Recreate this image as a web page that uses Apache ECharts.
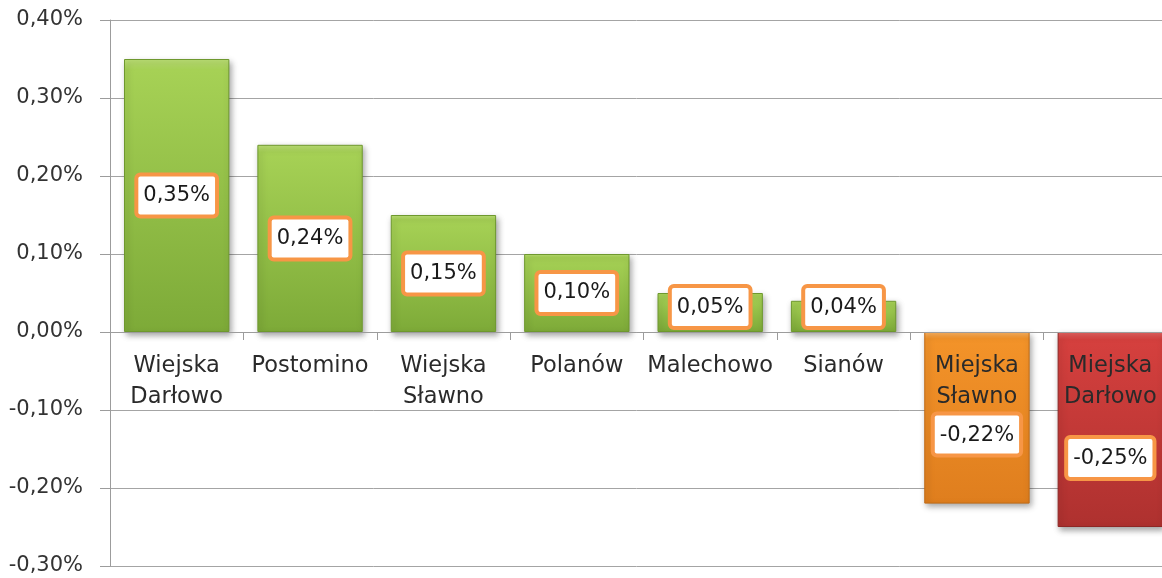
<!DOCTYPE html>
<html>
<head>
<meta charset="utf-8">
<script src="https://cdn.jsdelivr.net/npm/echarts@6/dist/echarts.min.js"></script>
<style>
  html, body { margin: 0; padding: 0; background: #fff; }
  #chart { width: 1162px; height: 578px; }
</style>
</head>
<body>
<div id="chart"></div>
<script>
// Population change by gmina (percent)
const categories = [
  'Wiejska\nDarłowo', 'Postomino', 'Wiejska\nSławno', 'Polanów',
  'Malechowo', 'Sianów', 'Miejska\nSławno', 'Miejska\nDarłowo'
];
const changePct = [0.35, 0.24, 0.15, 0.10, 0.05, 0.04, -0.22, -0.25];
const yTicks = { min: -0.30, max: 0.40, step: 0.10 };

const FONT = 'DejaVu Sans';

function pct(v) {
  if (Math.abs(v) < 1e-9) v = 0;
  return v.toFixed(2).replace('.', ',') + '%';
}

function vGrad(top, mid, bottom) {
  return {
    type: 'linear', x: 0, y: 0, x2: 0, y2: 1,
    colorStops: [
      { offset: 0, color: top },
      { offset: 0.04, color: mid },
      { offset: 1, color: bottom }
    ]
  };
}

const greenFill = vGrad('#BCDF76', '#A6D155', '#7DAA38');
const orangeFill = vGrad('#F8B060', '#F39329', '#DF7E1E');
const redFill = vGrad('#E26260', '#D5403E', '#AE312F');

function fillFor(i, v) {
  if (v >= 0) return { fill: greenFill, edge: '#6E982E' };
  // the two town gminas are shown in warm tones
  return i === categories.length - 1
    ? { fill: redFill, edge: '#8E2725' }
    : { fill: orangeFill, edge: '#C06A15' };
}

const seriesData = changePct.map((v, i) => {
  const tone = fillFor(i, v);
  let label;
  if (v < 0) label = { position: 'insideBottom', distance: 50 };
  else if (v < 0.08) label = { position: 'insideBottom', distance: 6 };
  else label = { position: 'inside' };
  return {
    value: v,
    itemStyle: { color: tone.fill, borderColor: tone.edge, borderWidth: 1 },
    label
  };
});

const chart = echarts.init(document.getElementById('chart'), null, { renderer: 'canvas' });

chart.setOption({
  animation: false,
  backgroundColor: '#ffffff',
  grid: { left: 110, right: -15, top: 20, bottom: 12, containLabel: false, outerBoundsMode: 'none' },
  xAxis: {
    type: 'category',
    data: categories,
    z: 5,
    axisLine: { onZero: true, lineStyle: { color: '#9C9C9C', width: 1 } },
    axisTick: { show: true, length: 8, lineStyle: { color: '#9C9C9C' } },
    axisLabel: {
      interval: 0,
      // category names sit just under the zero line
      margin: -215,
      color: '#2A2A2A',
      fontFamily: FONT,
      fontSize: 22.5,
      lineHeight: 31,
      verticalAlign: 'top'
    },
    splitLine: { show: false }
  },
  yAxis: {
    type: 'value',
    min: yTicks.min,
    max: yTicks.max,
    interval: yTicks.step,
    axisLine: { show: true, lineStyle: { color: '#9C9C9C', width: 1 } },
    axisTick: { show: true, length: 10, lineStyle: { color: '#9C9C9C' } },
    axisLabel: {
      margin: 27,
      color: '#333333',
      fontFamily: FONT,
      fontSize: 21,
      formatter: pct
    },
    splitLine: { show: true, lineStyle: { color: '#A4A4A4', width: 1 } }
  },
  series: [{
    type: 'bar',
    data: seriesData,
    barCategoryGap: '21%',
    itemStyle: {
      shadowColor: 'rgba(0,0,0,0.35)',
      shadowBlur: 6,
      shadowOffsetX: 2,
      shadowOffsetY: 3
    },
    label: {
      show: true,
      formatter: p => pct(p.value),
      fontFamily: FONT,
      fontSize: 21,
      lineHeight: 25,
      color: '#1A1A1A',
      backgroundColor: '#ffffff',
      borderColor: '#F79646',
      borderWidth: 4,
      borderRadius: 2,
      padding: [7, 5, 6, 5]
    }
  }]
});
</script>
</body>
</html>
